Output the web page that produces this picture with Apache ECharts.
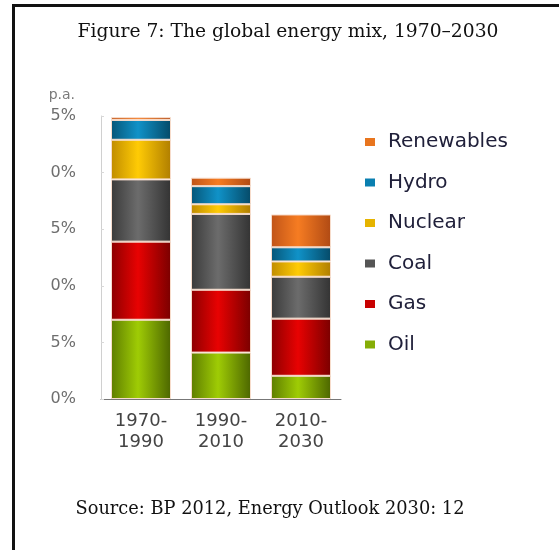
<!DOCTYPE html>
<html>
<head>
<meta charset="utf-8">
<script src="https://cdn.jsdelivr.net/npm/echarts@6/dist/echarts.min.js"></script>
<style>
  html, body { margin: 0; padding: 0; background: #fff; overflow: hidden; }
  #frame { position: absolute; left: 12px; top: 4px; width: 620px; height: 620px;
           border-left: 3px solid #111; border-top: 3px solid #111; }
  #chart { position: absolute; left: 0; top: 0; width: 559px; height: 550px; }
</style>
</head>
<body>
<div id="frame"></div>
<div id="chart"></div>
<script>
// Periods on the category axis
const periods = ['1970-\n1990', '1990-\n2010', '2010-\n2030'];

// Contribution to growth, % p.a., by fuel (bottom of the stack first)
const oil        = [7.0, 4.1, 2.05];
const gas        = [6.9, 5.55, 5.05];
const coal       = [5.5, 6.7, 3.7];
const nuclear    = [3.5, 0.85, 1.35];
const hydro      = [1.75, 1.6, 1.25];
const renewables = [0.25, 0.75, 2.9];

// Tick labels on the value axis, one per 5-point step
const yTickLabels = ['0%', '5%', '0%', '5%', '0%', '5%'];

const fuels = [
  { name: 'Oil',        data: oil,        c: ['#5e7d00', '#9fcc05', '#4c6600'] },
  { name: 'Gas',        data: gas,        c: ['#8c0000', '#e80202', '#7a0000'] },
  { name: 'Coal',       data: coal,       c: ['#3a3a3a', '#6c6c6c', '#333333'] },
  { name: 'Nuclear',    data: nuclear,    c: ['#c08c00', '#ffcb05', '#b07e00'] },
  { name: 'Hydro',      data: hydro,      c: ['#065678', '#1092c8', '#054a68'] },
  { name: 'Renewables', data: renewables, c: ['#c05418', '#f67c22', '#b04a14'] }
];

const legendSwatch = {
  Renewables: '#e8751e', Hydro: '#0a7fb0', Nuclear: '#e6b400',
  Coal: '#555555', Gas: '#c80000', Oil: '#86ad06'
};

const chart = echarts.init(document.getElementById('chart'), null, { renderer: 'canvas' });

chart.setOption({
  animation: false,
  backgroundColor: 'transparent',
  title: [
    {
      text: 'Figure 7: The global energy mix, 1970\u20132030',
      left: 283, top: 18, textAlign: 'center',
      textStyle: { fontFamily: 'DejaVu Serif', fontSize: 18.7, fontWeight: 'normal', color: '#111' }
    },
    {
      text: 'Source: BP 2012, Energy Outlook 2030: 12',
      left: 265, top: 495, textAlign: 'center',
      textStyle: { fontFamily: 'DejaVu Serif', fontSize: 17.8, fontWeight: 'normal', color: '#111' }
    }
  ],
  legend: {
    orient: 'vertical',
    left: 365, top: 132,
    padding: 0,
    itemWidth: 10, itemHeight: 8, itemGap: 20.5,
    icon: 'rect',
    data: ['Renewables', 'Hydro', 'Nuclear', 'Coal', 'Gas', 'Oil'].map(n => ({
      name: n, itemStyle: { color: legendSwatch[n], borderWidth: 0 }
    })),
    textStyle: { fontFamily: 'DejaVu Sans', fontSize: 20, color: '#20203a', lineHeight: 20,
                 padding: [0, 0, 0, 8] }
  },
  grid: { left: 101, top: 116, width: 240, bottom: 151 },
  xAxis: {
    type: 'category',
    data: periods,
    axisLine: { lineStyle: { color: '#777', width: 1 } },
    axisTick: { show: false },
    axisLabel: { margin: 12, fontFamily: 'DejaVu Sans', fontSize: 18, color: '#444',
                 lineHeight: 21 }
  },
  yAxis: {
    type: 'value',
    min: 0, max: 25, interval: 5,
    name: 'p.a.',
    nameLocation: 'end',
    nameGap: 14,
    nameTextStyle: { fontFamily: 'DejaVu Sans', fontSize: 14, color: '#7a7a7a', align: 'right',
                     padding: [0, 26, 0, 0] },
    axisLine: { show: true, lineStyle: { color: '#d0d0d0' } },
    axisTick: { show: true, inside: true, length: 3, lineStyle: { color: '#d8d8d8' } },
    splitLine: { show: false },
    axisLabel: {
      margin: 25, fontFamily: 'DejaVu Sans', fontSize: 16, color: '#6e6e6e',
      formatter: v => yTickLabels[Math.round(v / 5)]
    }
  },
  series: fuels.map(f => ({
    name: f.name,
    type: 'bar',
    stack: 'mix',
    barWidth: 60,
    data: f.data,
    itemStyle: {
      color: {
        type: 'linear', x: 0, y: 0, x2: 1, y2: 0,
        colorStops: [
          { offset: 0, color: f.c[0] },
          { offset: 0.45, color: f.c[1] },
          { offset: 1, color: f.c[2] }
        ]
      },
      borderColor: '#f7dccb',
      borderWidth: 1
    }
  }))
});
</script>
</body>
</html>
